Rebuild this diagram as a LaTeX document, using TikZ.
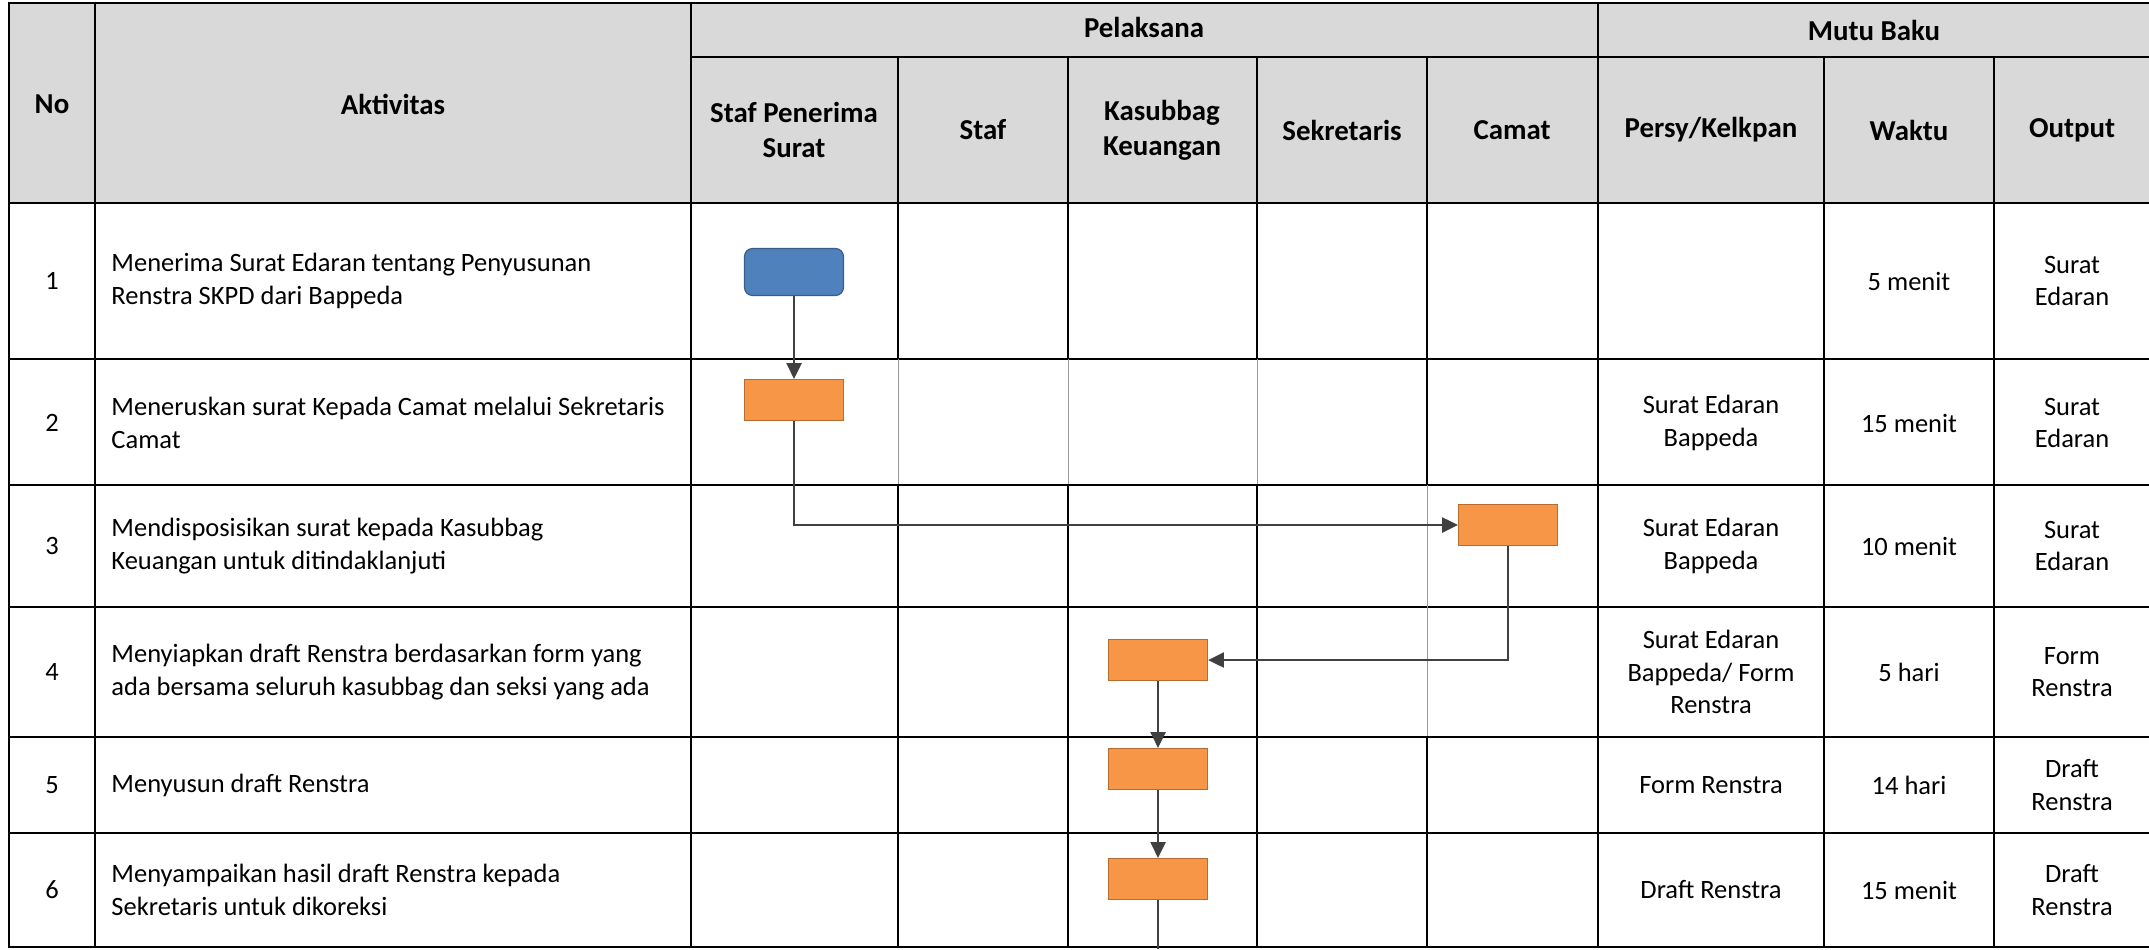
\documentclass[tikz,border=0pt]{standalone}
\usepackage{fontspec}
\setmainfont{Carlito}
\usetikzlibrary{arrows.meta,positioning}
\definecolor{headgray}{HTML}{D9D9D9}
\definecolor{boxorange}{HTML}{F79646}
\definecolor{orangeedge}{HTML}{B86B2E}
\definecolor{boxblue}{HTML}{4F81BD}
\definecolor{blueedge}{HTML}{385D8A}
\definecolor{flowgray}{HTML}{404040}
\tikzset{
  tabline/.style={line width=1.1pt, black, line cap=rect},
  thinline/.style={line width=0.4pt, black!40},
  headtxt/.style={font=\fontsize{12}{14.6}\selectfont\bfseries, align=center, inner sep=0pt},
  celltxt/.style={font=\fontsize{11}{13.4}\selectfont, align=center, inner sep=0pt},
  akttxt/.style={celltxt, align=left, anchor=west},
  mulai/.style={draw=blueedge, fill=boxblue, line width=0.5pt, rounded corners=3.3pt,
    minimum width=41.1pt, minimum height=19.5pt, inner sep=0pt},
  proses/.style={draw=orangeedge, fill=boxorange, line width=0.5pt,
    minimum width=41.1pt, minimum height=17pt, inner sep=0pt},
  alur/.style={draw=flowgray, line width=1.1pt, -{Triangle[length=6.6pt,width=6.2pt]}},
  alurline/.style={draw=flowgray, line width=1.1pt}
}
\begin{document}
\begin{tikzpicture}[x=0.0146cm, y=-0.0146cm]
\useasboundingbox (0,0) rectangle (2149,949);
\fill[headgray] (9,3) rectangle (2149,203);
\foreach \yy in {3,203,359,485,607,737,833,947}
  \draw[tabline] (9,\yy) -- (2149,\yy);
\draw[tabline] (691,57) -- (2149,57);
\foreach \xx in {9,95,691,1598}
  \draw[tabline] (\xx,3) -- (\xx,947);
\foreach \xx in {1824,1994}
  \draw[tabline] (\xx,57) -- (\xx,947);
\foreach \xx in {898,1068,1257}{
  \draw[tabline] (\xx,57) -- (\xx,359);
  \draw[thinline] (\xx,359) -- (\xx,485);
  \draw[tabline] (\xx,485) -- (\xx,947);
}
\draw[tabline] (1427,57) -- (1427,485);
\draw[thinline] (1427,485) -- (1427,737);
\draw[tabline] (1427,737) -- (1427,947);

\node[headtxt] (hno) at (52,104) {No};
\node[headtxt] (hakt) at (393,104) {Aktivitas};
\node[headtxt] (hpel) at (1144,27) {Pelaksana};
\node[headtxt] (hmutu) at (1874,30) {Mutu Baku};
\node[headtxt] (hstafps) at (794,130) {Staf Penerima\\Surat};
\node[headtxt] (hstaf) at (983,130) {Staf};
\node[headtxt] (hkasub) at (1162,130) {Kasubbag\\Keuangan};
\node[headtxt] (hsekre) at (1342,130) {Sekretaris};
\node[headtxt] (hcamat) at (1512,130) {Camat};
\node[headtxt] (hpersy) at (1711,130) {Persy/Kelkpan};
\node[headtxt] (hwaktu) at (1909,130) {Waktu};
\node[headtxt] (houtput) at (2072,130) {Output};

\foreach \n/\yy/\akt/\per/\wkt/\out in {
  1/281/{Menerima Surat Edaran tentang Penyusunan\\Renstra SKPD dari Bappeda}/{}/{5 menit}/{Surat\\Edaran},
  2/423/{Meneruskan surat Kepada Camat melalui Sekretaris\\Camat}/{Surat Edaran\\Bappeda}/{15 menit}/{Surat\\Edaran},
  3/546/{Mendisposisikan surat kepada Kasubbag\\Keuangan untuk ditindaklanjuti}/{Surat Edaran\\Bappeda}/{10 menit}/{Surat\\Edaran},
  4/672/{Menyiapkan draft Renstra berdasarkan form yang\\ada bersama seluruh kasubbag dan seksi yang ada}/{Surat Edaran\\Bappeda/ Form\\Renstra}/{5 hari}/{Form\\Renstra},
  5/785/{Menyusun draft Renstra}/{Form Renstra}/{14 hari}/{Draft\\Renstra},
  6/890/{Menyampaikan hasil draft Renstra kepada\\Sekretaris untuk dikoreksi}/{Draft Renstra}/{15 menit}/{Draft\\Renstra}}{
  \node[celltxt] (no\n) at (52,\yy) {\n};
  \node[akttxt] (akt\n) at (111,\yy) {\akt};
  \node[celltxt] (per\n) at (1711,\yy) {\per};
  \node[celltxt] (wkt\n) at (1909,\yy) {\wkt};
  \node[celltxt] (out\n) at (2072,\yy) {\out};
}

\node[mulai] (s1) at (794,272) {};
\node[proses] (p2) at (794,400) {};
\node[proses] (p3) at (1508,525) {};
\node[proses] (p4) at (1158,660) {};
\node[proses] (p5) at (1158,769) {};
\node[proses] (p6) at (1158,879) {};
\coordinate (akhir) at (1158,949);

\draw[alur] (s1) -- (p2);
\draw[alur] (p2.south) |- (p3.west);
\draw[alur] (p3.south) |- (p4.east);
\draw[alur] (p4) -- (p5);
\draw[alur] (p5) -- (p6);
\draw[alurline] (p6) -- (akhir);
\end{tikzpicture}
\end{document}
